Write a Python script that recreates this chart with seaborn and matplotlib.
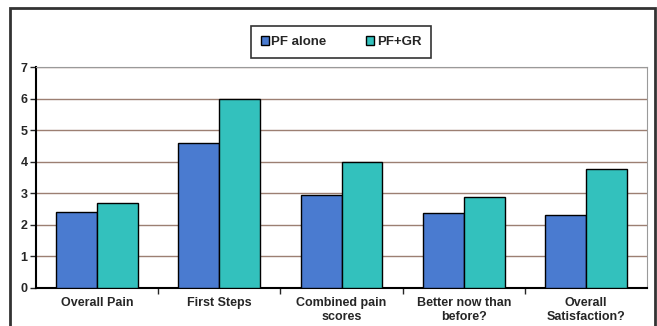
import pandas as pd
import matplotlib.pyplot as plt
import seaborn as sns
from matplotlib.patches import Rectangle

# values
categories = ["Overall Pain", "First Steps", "Combined pain\nscores",
              "Better now than\nbefore?", "Overall\nSatisfaction?"]
pf_alone = [2.41, 4.58, 2.96, 2.38, 2.30]
pf_gr = [2.68, 6.0, 4.0, 2.88, 3.77]
series = ["PF alone", "PF+GR"]
colors = ["#4a7bd0", "#33c1bd"]

df = pd.DataFrame({
    "Category": categories * 2,
    "Score": pf_alone + pf_gr,
    "Group": [series[0]] * len(categories) + [series[1]] * len(categories),
})

sns.set_style("white")
plt.rcParams['font.family'] = ['Liberation Sans', 'DejaVu Sans']
plt.rcParams['font.weight'] = 'bold'

fig = plt.figure(figsize=(6.57, 3.26), dpi=100)
ax = fig.add_axes([36/657, 38/326, 611/657, 221/326])

sns.barplot(data=df, x="Category", y="Score", hue="Group", palette=colors,
            saturation=1, width=0.67, edgecolor="black", linewidth=1, ax=ax, zorder=3)

ax.set_ylim(0, 7)
ax.set_xlim(-0.5, len(categories) - 0.5)
ax.set_yticks(range(0, 8))
ax.set_xlabel("")
ax.set_ylabel("")
ax.grid(True, axis='y', color="#9c7f72", linewidth=1, zorder=0)

for side in ["top", "right"]:
    ax.spines[side].set_color("#9a9a9a")
    ax.spines[side].set_linewidth(0.8)
for side in ["left", "bottom"]:
    ax.spines[side].set_color("black")
    ax.spines[side].set_linewidth(1.5)

ax.tick_params(axis='y', left=True, length=4, width=1, labelsize=9, pad=2)
ax.tick_params(axis='x', which='major', bottom=False, labelsize=9, pad=3)
ax.set_xticks([i + 0.5 for i in range(len(categories) - 1)], minor=True)
ax.tick_params(axis='x', which='minor', bottom=True, length=4, width=1)
for lbl in ax.get_xticklabels() + ax.get_yticklabels():
    lbl.set_fontweight('bold')
    lbl.set_multialignment('center')

leg = ax.legend(title=None, ncol=2, loc='center', bbox_to_anchor=(341/657, 1 - 42/326),
                bbox_transform=fig.transFigure, fontsize=9.5, frameon=True,
                fancybox=False, edgecolor="black", handlelength=0.6, handleheight=0.6,
                handletextpad=0.2, columnspacing=3.0, borderpad=0.75, borderaxespad=0)
leg.get_frame().set_linewidth(1.2)
leg._legend_box.sep = 0
for t in leg.get_texts():
    t.set_fontweight('bold')

# outer frame of the chart
fig.patches.append(Rectangle((10/657, -0.05), 645/657, 1.05 - 8/326,
                             transform=fig.transFigure, fill=False,
                             edgecolor="#333333", linewidth=2))

fig.savefig("out.png", dpi=100)
